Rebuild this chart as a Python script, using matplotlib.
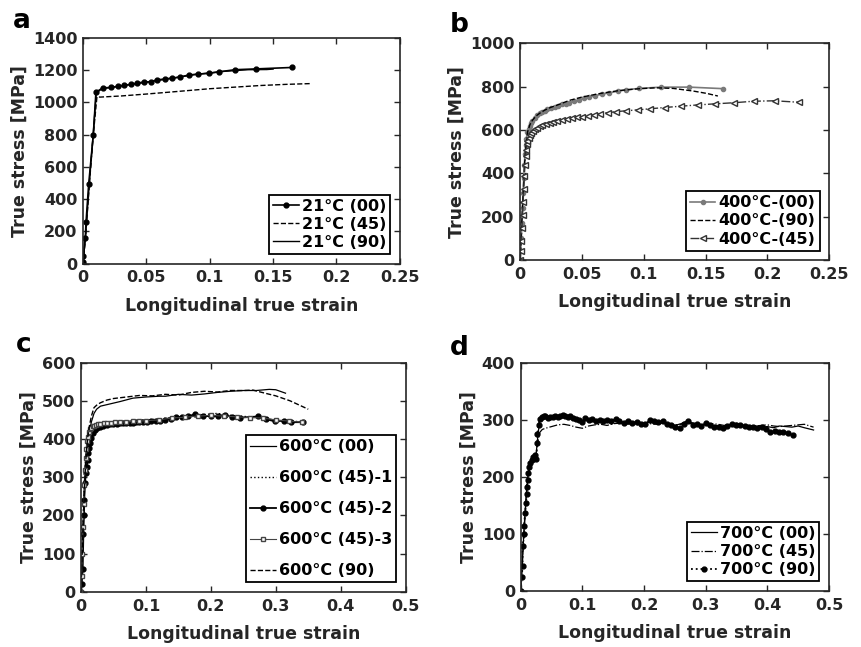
import matplotlib
matplotlib.use('Agg')
import matplotlib.pyplot as plt

plt.rcParams['font.family'] = ['DejaVu Sans']
plt.rcParams['font.weight'] = 'bold'
plt.rcParams['axes.labelweight'] = 'bold'

# ---- panel a : 21°C ----
strain_21_00 = [0, 0.0003, 0.0003, 0.0018, 0.0024, 0.0045, 0.0081, 0.0102, 0.0155, 0.0221,
                0.0279, 0.0323, 0.0376, 0.0426, 0.0481, 0.0534, 0.0584, 0.0644, 0.0704, 0.0765,
                0.0833, 0.0909, 0.0991, 0.1075, 0.1199, 0.1364, 0.165]
stress_21_00 = [0, 7, 48, 156, 258, 494, 796, 1063, 1090, 1093,
                1100, 1106, 1112, 1119, 1127, 1128, 1140, 1145, 1151, 1157,
                1170, 1176, 1180, 1190, 1203, 1208, 1217]
strain_21_45 = [0, 0.002, 0.005, 0.008, 0.011, 0.0134, 0.03, 0.05, 0.07, 0.1, 0.12, 0.14, 0.16, 0.18]
stress_21_45 = [0, 165, 490, 790, 1035, 1033, 1040, 1052, 1065, 1085, 1095, 1105, 1112, 1117]
strain_21_90 = [0, 0.002, 0.005, 0.008, 0.0105, 0.015, 0.03, 0.05, 0.07, 0.09, 0.11, 0.13, 0.145, 0.15]
stress_21_90 = [0, 170, 500, 800, 1060, 1085, 1103, 1125, 1150, 1175, 1192, 1203, 1204, 1207]

# ---- panel b : 400°C ----
strain_400_00 = [0, 0.0005, 0.001, 0.0015, 0.002, 0.0025, 0.003, 0.0035, 0.004, 0.0045,
                 0.005, 0.006, 0.007, 0.008, 0.009, 0.010, 0.012, 0.014, 0.016, 0.018,
                 0.020, 0.022, 0.025, 0.028, 0.031, 0.034, 0.037, 0.040, 0.044, 0.048,
                 0.052, 0.056, 0.061, 0.066, 0.072, 0.079, 0.086, 0.096, 0.114, 0.137,
                 0.164]
stress_400_00 = [0, 40, 100, 170, 240, 310, 380, 440, 490, 530,
                 560, 590, 605, 620, 632, 642, 657, 668, 677, 684,
                 690, 695, 702, 708, 713, 718, 722, 727, 733, 740,
                 746, 752, 759, 765, 772, 779, 786, 792, 798, 798,
                 791]
strain_400_90 = [0, 0.002, 0.004, 0.006, 0.008, 0.010, 0.013, 0.016, 0.02, 0.025,
                 0.03, 0.04, 0.05, 0.065, 0.08, 0.095, 0.11, 0.124, 0.14, 0.151, 0.16]
stress_400_90 = [0, 250, 480, 590, 625, 645, 665, 678, 692, 705,
                 715, 737, 752, 769, 782, 790, 795, 792, 780, 769, 757]
strain_400_45 = [0, 0.0005, 0.001, 0.0015, 0.002, 0.0025, 0.003, 0.0035, 0.004, 0.0045,
                 0.005, 0.0055, 0.006, 0.007, 0.008, 0.009, 0.0105, 0.012, 0.014, 0.016,
                 0.018, 0.021, 0.024, 0.027, 0.030, 0.034, 0.038, 0.042, 0.046, 0.050,
                 0.055, 0.060, 0.065, 0.071, 0.078, 0.086, 0.095, 0.105, 0.117, 0.130,
                 0.144, 0.158, 0.173, 0.189, 0.206, 0.226]
stress_400_45 = [0, 40, 90, 150, 210, 270, 330, 390, 440, 480,
                 510, 535, 550, 565, 577, 585, 595, 603, 610, 617,
                 622, 628, 633, 637, 641, 646, 650, 654, 658, 662,
                 667, 671, 676, 680, 685, 689, 693, 698, 704, 710,
                 716, 721, 726, 733, 735, 728]

# ---- panel c : 600°C ----
strain_600_00 = [0, 0.002, 0.004, 0.006, 0.008, 0.010, 0.013, 0.016, 0.020, 0.024,
                 0.03, 0.04, 0.05, 0.06, 0.08, 0.10, 0.12, 0.13, 0.15, 0.17,
                 0.19, 0.21, 0.23, 0.25, 0.27, 0.29, 0.30, 0.315]
stress_600_00 = [0, 100, 200, 290, 350, 390, 420, 445, 467, 478,
                 486, 490, 494, 498, 507, 510, 512, 512, 517, 515,
                 518, 522, 525, 527, 527, 530, 529, 520]
strain_600_45_1 = [0, 0.002, 0.004, 0.006, 0.008, 0.010, 0.013, 0.016, 0.02, 0.025,
                   0.03, 0.04, 0.05, 0.07, 0.09, 0.11, 0.13, 0.15, 0.17, 0.19,
                   0.21, 0.23, 0.25, 0.27, 0.29, 0.31, 0.33, 0.345]
stress_600_45_1 = [0, 120, 240, 320, 370, 400, 420, 430, 437, 440,
                   442, 444, 445, 447, 449, 451, 454, 458, 461, 464,
                   467, 462, 459, 458, 452, 447, 446, 445]
strain_600_45_2 = [0, 0.001, 0.0026, 0.0036, 0.0045, 0.005, 0.006, 0.0075, 0.0088, 0.010,
                   0.0113, 0.0125, 0.0139, 0.016, 0.019, 0.0216, 0.025, 0.029, 0.034, 0.0396,
                   0.045, 0.05, 0.055, 0.06, 0.065, 0.07, 0.075, 0.08, 0.085, 0.09,
                   0.096, 0.1016, 0.108, 0.115, 0.122, 0.13, 0.138, 0.1468, 0.155, 0.165,
                   0.175, 0.188, 0.20, 0.2115, 0.222, 0.232, 0.245, 0.273, 0.285, 0.299,
                   0.312, 0.324, 0.342]
stress_600_45_2 = [0, 20, 60, 150, 200, 240, 284, 310, 327, 345,
                   363, 377, 389, 403, 415, 424, 428, 432, 435, 437,
                   438, 439, 440, 441, 441, 442, 442, 443, 444, 444,
                   445, 445, 447, 448, 448, 451, 453, 458, 457, 459,
                   465, 460, 460, 460, 464, 457, 456, 459, 452, 446,
                   448, 444, 444]
strain_600_45_3 = [0, 0.001, 0.002, 0.003, 0.004, 0.005, 0.006, 0.007, 0.008, 0.009,
                   0.010, 0.012, 0.014, 0.016, 0.018, 0.020, 0.023, 0.026, 0.030, 0.035,
                   0.040, 0.046, 0.053, 0.060, 0.07, 0.08, 0.09, 0.10, 0.12, 0.14,
                   0.16, 0.18, 0.20, 0.22, 0.24, 0.26, 0.28, 0.30, 0.32, 0.34]
stress_600_45_3 = [0, 40, 100, 170, 230, 280, 320, 350, 375, 395,
                   405, 418, 425, 430, 433, 435, 437, 438, 440, 441,
                   442, 443, 444, 444, 445, 446, 447, 448, 450, 455,
                   457, 460, 462, 460, 458, 456, 455, 450, 447, 444]
strain_600_90 = [0, 0.002, 0.004, 0.006, 0.008, 0.010, 0.013, 0.016, 0.020, 0.025,
                 0.03, 0.04, 0.05, 0.07, 0.09, 0.11, 0.13, 0.15, 0.17, 0.19,
                 0.21, 0.23, 0.25, 0.265, 0.281, 0.30, 0.322, 0.35]
stress_600_90 = [0, 110, 210, 300, 360, 400, 435, 460, 482, 490,
                 495, 502, 506, 510, 514, 513, 517, 515, 522, 525,
                 523, 527, 527, 528, 521, 513, 500, 478]

# ---- panel d : 700°C ----
strain_700 = [0, 0.003, 0.006, 0.009, 0.012, 0.015, 0.02, 0.025, 0.028, 0.031,
              0.035, 0.04, 0.05, 0.06, 0.07, 0.08, 0.09, 0.1,
              0.11, 0.12, 0.13, 0.14, 0.15, 0.16, 0.17, 0.18, 0.19, 0.2,
              0.21, 0.22, 0.23, 0.24, 0.25, 0.26, 0.27, 0.28, 0.29, 0.3,
              0.31, 0.32, 0.33, 0.34, 0.35, 0.36, 0.37, 0.38, 0.39, 0.4,
              0.41, 0.42, 0.43, 0.44, 0.45, 0.46, 0.475]
stress_700_00 = [0, 60, 120, 170, 205, 222, 234, 240, 275, 298,
                 303, 304, 303, 305, 306, 304, 301, 298,
                 300, 296, 297, 295, 299, 296, 294, 296, 293, 294,
                 296, 295, 294, 292, 290, 293, 298, 294, 291, 292,
                 289, 290, 287, 290, 292, 290, 288, 289, 287, 288,
                 286, 289, 288, 287, 289, 286, 282]
stress_700_45 = [0, 55, 115, 165, 200, 220, 232, 240, 262, 278,
                 283, 285, 288, 291, 292, 290, 287, 285,
                 289, 291, 292, 290, 293, 294, 292, 293, 291, 290,
                 293, 292, 294, 293, 291, 292, 295, 293, 292, 291,
                 293, 292, 290, 292, 294, 291, 290, 289, 290, 291,
                 289, 288, 289, 290, 291, 292, 287]
strain_700_90 = [0, 0.0016, 0.003, 0.003, 0.0054, 0.0054, 0.007, 0.0085, 0.0097, 0.0097,
                 0.011, 0.0124, 0.014, 0.015, 0.0175, 0.0205, 0.0225, 0.0248, 0.027, 0.027,
                 0.029, 0.031, 0.034, 0.037, 0.040, 0.044, 0.048, 0.052, 0.056, 0.060,
                 0.064, 0.068, 0.072, 0.076, 0.080, 0.085, 0.090, 0.095, 0.100, 0.105,
                 0.110, 0.116, 0.122, 0.128, 0.134, 0.140, 0.147, 0.154, 0.160, 0.167,
                 0.174, 0.181, 0.188, 0.195, 0.202, 0.209, 0.216, 0.223, 0.230, 0.237,
                 0.244, 0.251, 0.258, 0.265, 0.272, 0.279, 0.286, 0.293, 0.300, 0.307,
                 0.314, 0.321, 0.328, 0.335, 0.342, 0.349, 0.356, 0.363, 0.370, 0.377,
                 0.384, 0.391, 0.398, 0.405, 0.412, 0.419, 0.426, 0.433, 0.442]
stress_700_90 = [0, 25, 43, 78, 100, 113, 136, 154, 170, 183,
                 195, 206, 218, 224, 230, 235, 238, 232, 259, 275,
                 290, 302, 305, 307, 306, 303, 305, 304, 306, 305,
                 307, 308, 307, 305, 306, 303, 302, 300, 296, 303,
                 299, 302, 298, 300, 297, 299, 298, 301, 297, 295,
                 298, 294, 296, 293, 292, 299, 297, 296, 298, 293,
                 291, 288, 286, 292, 297, 291, 293, 289, 294, 291,
                 288, 287, 285, 289, 292, 290, 291, 289, 287, 288,
                 286, 287, 283, 279, 281, 279, 278, 276, 274]

axis_color = '#262626'


def style_axes(ax, xmax, ymax, xticks, xlabels, yticks):
    ax.set_xlim(0, xmax)
    ax.set_ylim(0, ymax)
    ax.set_xticks(xticks)
    ax.set_xticklabels(xlabels)
    ax.set_yticks(yticks)
    ax.tick_params(direction='in', top=True, right=True, length=4, width=1,
                   labelsize=11.5, colors=axis_color)
    ax.tick_params(axis='x', pad=5)
    ax.tick_params(axis='y', pad=4)
    for s in ax.spines.values():
        s.set_linewidth(1.2)
        s.set_color(axis_color)
    ax.set_xlabel('Longitudinal true strain', fontsize=12.5, color=axis_color, labelpad=8)
    ax.set_ylabel('True stress [MPa]', fontsize=12.5, color=axis_color, labelpad=3)


def add_legend(ax, spacing):
    leg = ax.legend(loc='lower right', fontsize=11.5, handlelength=1.6, handletextpad=0.2,
                    labelspacing=spacing, borderpad=0.25, borderaxespad=0.6,
                    fancybox=False, framealpha=1)
    leg.get_frame().set_edgecolor('black')
    leg.get_frame().set_linewidth(1.3)


fig = plt.figure(figsize=(8.61, 6.47), dpi=100)

# a
ax1 = fig.add_axes([0.0964, 0.5927, 0.368, 0.3486])
ax1.plot(strain_21_00, stress_21_00, '-', color='black', marker='o', ms=3.5, lw=1.2,
         label='21°C (00)')
ax1.plot(strain_21_45, stress_21_45, '--', color='black', lw=1.0, label='21°C (45)')
ax1.plot(strain_21_90, stress_21_90, '-', color='black', lw=1.0, label='21°C (90)')
style_axes(ax1, 0.25, 1400, [0, 0.05, 0.1, 0.15, 0.2, 0.25],
           ['0', '0.05', '0.1', '0.15', '0.2', '0.25'], range(0, 1401, 200))
add_legend(ax1, 0.2)

# b
ax2 = fig.add_axes([0.604, 0.598, 0.359, 0.335])
ax2.plot(strain_400_00, stress_400_00, '-', color='#7a7a7a', marker='o', ms=3, lw=1.2,
         label='400°C-(00)')
ax2.plot(strain_400_90, stress_400_90, '--', color='black', lw=1.0, label='400°C-(90)')
ax2.plot(strain_400_45, stress_400_45, '-.', color='#333333', marker='<', ms=4,
         mfc='white', lw=1.0, label='400°C-(45)')
style_axes(ax2, 0.25, 1000, [0, 0.05, 0.1, 0.15, 0.2, 0.25],
           ['0', '0.05', '0.1', '0.15', '0.2', '0.25'], range(0, 1001, 200))
add_legend(ax2, 0.2)

# c
ax3 = fig.add_axes([0.0941, 0.0855, 0.377, 0.354])
ax3.plot(strain_600_00, stress_600_00, '-', color='black', lw=0.9, label='600°C (00)')
ax3.plot(strain_600_45_1, stress_600_45_1, ':', color='black', lw=1.0, label='600°C (45)-1')
ax3.plot(strain_600_45_2, stress_600_45_2, '-', color='black', marker='o', ms=3.5, lw=1.3,
         label='600°C (45)-2')
ax3.plot(strain_600_45_3, stress_600_45_3, '-', color='#444444', marker='s', ms=3,
         mfc='white', lw=0.8, label='600°C (45)-3')
ax3.plot(strain_600_90, stress_600_90, '--', color='black', lw=1.0, label='600°C (90)')
style_axes(ax3, 0.5, 600, [0, 0.1, 0.2, 0.3, 0.4, 0.5],
           ['0', '0.1', '0.2', '0.3', '0.4', '0.5'], range(0, 601, 100))
add_legend(ax3, 1.0)

# d
ax4 = fig.add_axes([0.6048, 0.0866, 0.358, 0.3529])
ax4.plot(strain_700, stress_700_00, '-', color='black', lw=0.9, label='700°C (00)')
ax4.plot(strain_700, stress_700_45, '-.', color='black', lw=0.9, label='700°C (45)')
ax4.plot(strain_700_90, stress_700_90, ':', color='black', marker='o', ms=3.5, lw=1.3,
         label='700°C (90)')
style_axes(ax4, 0.5, 400, [0, 0.1, 0.2, 0.3, 0.4, 0.5],
           ['0', '0.1', '0.2', '0.3', '0.4', '0.5'], range(0, 401, 100))
add_legend(ax4, 0.2)

# panel letters
for x, y, t in [(0.015, 0.967, 'a'), (0.522, 0.962, 'b'),
                (0.018, 0.467, 'c'), (0.522, 0.462, 'd')]:
    fig.text(x, y, t, fontsize=19, fontweight='bold', color='black', va='center')

fig.savefig('out.png', dpi=100)
